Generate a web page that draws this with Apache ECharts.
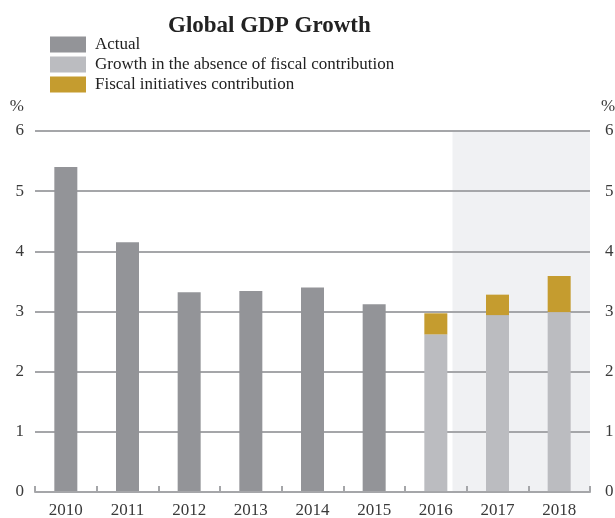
<!DOCTYPE html>
<html>
<head>
<meta charset="utf-8">
<script src="https://cdn.jsdelivr.net/npm/echarts@6/dist/echarts.min.js"></script>
<style>
  html, body { margin: 0; padding: 0; background: #ffffff; }
  #chart { width: 615px; height: 518px; }
</style>
</head>
<body>
<div id="chart"></div>
<script>
// Global GDP growth, % per year
const years = ['2010', '2011', '2012', '2013', '2014', '2015', '2016', '2017', '2018'];
const actual = [5.40, 4.15, 3.32, 3.34, 3.40, 3.12, '-', '-', '-'];
const withoutFiscal = ['-', '-', '-', '-', '-', '-', 2.62, 2.94, 2.99];
const fiscalContribution = ['-', '-', '-', '-', '-', '-', 0.35, 0.34, 0.60];
const yTicks = [0, 6, 1]; // min, max, step
// forecast band, in category units along the horizontal axis
const forecastBand = [6.77, 9];

const serif = '"Liberation Serif", "DejaVu Serif", serif';
const gridColor = '#a5a6a9';
const labelColor = '#3a3a3a';

const chart = echarts.init(document.getElementById('chart'), null, { renderer: 'canvas' });

const yAxisBase = {
  type: 'value',
  min: yTicks[0],
  max: yTicks[1],
  interval: yTicks[2],
  name: '%',
  nameLocation: 'end',
  nameGap: 16,
  axisLine: { show: false },
  axisTick: { show: false },
  axisLabel: { fontFamily: serif, fontSize: 17, color: labelColor, margin: 11 },
  splitLine: { show: true, lineStyle: { color: gridColor, width: 2 } }
};

chart.setOption({
  animation: false,
  backgroundColor: '#ffffff',
  title: {
    text: 'Global GDP Growth',
    left: 163,
    top: 10,
    textStyle: { fontFamily: serif, fontSize: 23, fontWeight: 'bold', color: '#222222' }
  },
  legend: {
    orient: 'vertical',
    left: 50,
    top: 36,
    padding: 0,
    itemWidth: 36,
    itemHeight: 16,
    itemGap: 3,
    icon: 'rect',
    selectedMode: false,
    data: ['Actual', 'Growth in the absence of fiscal contribution', 'Fiscal initiatives contribution'],
    textStyle: { fontFamily: serif, fontSize: 17, color: '#222222', padding: [0, 0, 0, 4], lineHeight: 16 }
  },
  grid: { left: 35, right: 25, top: 131, bottom: 26, containLabel: false, outerBoundsMode: 'none' },
  xAxis: [
    {
      type: 'category',
      data: years,
      boundaryGap: true,
      axisLine: { show: true, lineStyle: { color: gridColor, width: 2 } },
      axisTick: { show: true, inside: true, length: 6, interval: 0, lineStyle: { color: gridColor, width: 2 } },
      axisLabel: { fontFamily: serif, fontSize: 17, color: labelColor, margin: 10, interval: 0 },
      splitLine: { show: false },
      z: 3
    },
    {
      type: 'value',
      min: 0,
      max: years.length,
      show: false
    }
  ],
  yAxis: [
    Object.assign({}, yAxisBase, {
      position: 'left',
      nameTextStyle: { fontFamily: serif, fontSize: 17, color: labelColor, align: 'right', padding: [0, 11, 0, 0] }
    }),
    Object.assign({}, yAxisBase, {
      position: 'right',
      axisLabel: { fontFamily: serif, fontSize: 17, color: labelColor, margin: 15 },
      splitLine: { show: false },
      nameTextStyle: { fontFamily: serif, fontSize: 17, color: labelColor, align: 'left', padding: [0, 0, 0, 11] }
    })
  ],
  series: [
    {
      name: 'Actual',
      type: 'bar',
      stack: 'gdp',
      data: actual,
      barWidth: 23,
      itemStyle: { color: '#939498' }
    },
    {
      name: 'Growth in the absence of fiscal contribution',
      type: 'bar',
      stack: 'gdp',
      data: withoutFiscal,
      barWidth: 23,
      itemStyle: { color: '#bbbcc0' }
    },
    {
      name: 'Fiscal initiatives contribution',
      type: 'bar',
      stack: 'gdp',
      data: fiscalContribution,
      barWidth: 23,
      itemStyle: { color: '#c59c2f' }
    },
    {
      name: 'forecast',
      type: 'scatter',
      xAxisIndex: 1,
      yAxisIndex: 0,
      data: [],
      silent: true,
      markArea: {
        silent: true,
        z: -1,
        itemStyle: { color: '#f0f1f3' },
        data: [[{ xAxis: forecastBand[0], yAxis: yTicks[0] }, { xAxis: forecastBand[1], yAxis: yTicks[1] }]]
      }
    }
  ]
});
</script>
</body>
</html>
